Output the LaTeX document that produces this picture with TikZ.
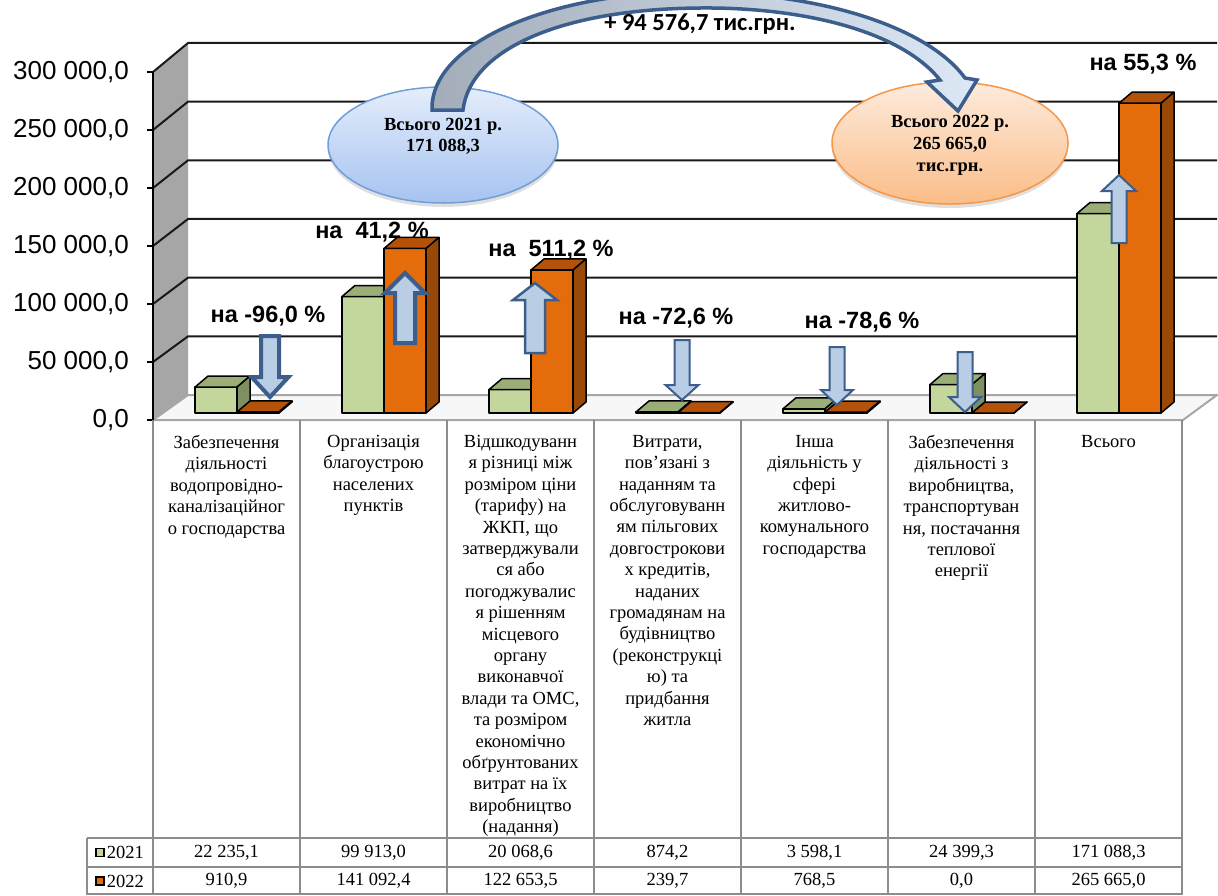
\documentclass[tikz,border=0pt]{standalone}
\usepackage{fontspec}
\setmainfont{Liberation Serif}
\newfontfamily\arialfont{Liberation Sans}
\newfontfamily\calibrifont{Carlito}
\usetikzlibrary{shadows}
\usetikzlibrary{positioning}
\usetikzlibrary{shapes.geometric}
\usetikzlibrary{calc}
\definecolor{greenfront}{HTML}{C3D69B}
\definecolor{greentop}{HTML}{9CAE78}
\definecolor{greenside}{HTML}{7F9060}
\definecolor{orangefront}{HTML}{E46C0A}
\definecolor{orangetop}{HTML}{B4520A}
\definecolor{orangeside}{HTML}{984807}
\definecolor{arrowfill}{HTML}{B9CDE5}
\definecolor{arrowline}{HTML}{3B5E8C}
\definecolor{wallgray}{HTML}{A6A6A6}
\definecolor{tablegray}{HTML}{8C8C8C}
\definecolor{bluetop}{HTML}{E4EDFB}
\definecolor{bluebottom}{HTML}{A6C3F0}
\definecolor{blueedge}{HTML}{6F9ED9}
\definecolor{orangeltop}{HTML}{FDEBDD}
\definecolor{orangelbottom}{HTML}{FBBD88}
\definecolor{orangeedge}{HTML}{F79646}
\definecolor{shaftleft}{HTML}{A3ADB9}
\definecolor{shaftright}{HTML}{DDE8F6}
\tikzstyle{gridline}=[black!90, line width=2pt]
\tikzstyle{barface}=[draw=black, line width=1.5pt, line join=round]
\tikzstyle{blockarrow}=[fill=arrowfill, draw=arrowline, line join=miter]
\tikzstyle{percent}=[font=\arialfont\bfseries\fontsize{23.5}{27}\selectfont, inner sep=0pt]
\tikzstyle{axislabel}=[font=\arialfont\fontsize{26}{30}\selectfont, anchor=east, inner sep=0pt]
\tikzstyle{category}=[font=\fontsize{18.5}{21.4}\selectfont, align=center, anchor=north, inner sep=0pt]
\tikzstyle{cellvalue}=[font=\fontsize{18.5}{20}\selectfont, inner sep=0pt]
\tikzstyle{totalbox}=[ellipse, minimum width=230pt, minimum height=116pt, inner sep=0pt, line width=1.5pt, drop shadow={opacity=0.25, shadow xshift=0pt, shadow yshift=-4pt}]
\tikzstyle{totaltext}=[font=\bfseries\fontsize{18.5}{21}\selectfont, align=center, inner sep=0pt]
\tikzstyle{tableline}=[tablegray, line width=2pt]
\tikzstyle{keybox}=[draw=black, line width=1.3pt, minimum size=8pt, inner sep=0pt]
% one 3D bar: left x, height, colour prefix
\newcommand{\cuboid}[3]{%
  \filldraw[barface, fill=#3front] (#1,413) rectangle (#1+42,413-#2);
  \filldraw[barface, fill=#3top] (#1,413-#2) -- (#1+13,402-#2) -- (#1+55,402-#2) -- (#1+42,413-#2) -- cycle;
  \filldraw[barface, fill=#3side] (#1+42,413) -- (#1+55,402) -- (#1+55,402-#2) -- (#1+42,413-#2) -- cycle;
}
\begin{document}
\begin{tikzpicture}[x=1pt, y=-1pt]
\useasboundingbox (0,0) rectangle (1218,895);

% walls, floor and grid
\fill[wallgray] (153,72) -- (188,43) -- (188,395) -- (153,420) -- cycle;
\filldraw[fill=black!3, draw=wallgray, line width=2pt] (153,420) -- (188,395) -- (1217,395) -- (1183,420) -- cycle;
\foreach \k in {1,...,6}
  \draw[gridline] (153,420-58*\k) -- (188,395-58.67*\k) -- (1217,395-58.67*\k);
\draw[black, line width=2pt] (153,72) -- (153,420);
\foreach \k/\lab in {0/{0,0}, 1/{50 000,0}, 2/{100 000,0}, 3/{150 000,0}, 4/{200 000,0}, 5/{250 000,0}, 6/{300 000,0}}{
  \draw[black, line width=1.5pt] (147,420-58*\k) -- (153,420-58*\k);
  \node[axislabel] (ax\k) at (129,420-58*\k) {\lab};
}

% totals
\node[totalbox, top color=bluetop, bottom color=bluebottom, draw=blueedge] (tot21) at (443,145) {};
\node[totaltext] (tot21text) at (443,136) {Всього 2021 р.\\171 088,3};
\node[totalbox, top color=orangeltop, bottom color=orangelbottom, draw=orangeedge, minimum width=236pt, minimum height=122pt] (tot22) at (950,143) {};
\node[totaltext, font=\bfseries\fontsize{18.5}{22}\selectfont] (tot22text) at (950,145) {Всього 2022 р.\\265 665,0\\тис.грн.};

% curved arrow between totals
\draw[line width=3.5pt, arrowline, left color=shaftleft, right color=shaftright, line join=miter]
  (432,110) .. controls (430,40) and (560,-10) .. (700,-8)
  .. controls (830,-6) and (930,30) .. (965,78)
  -- (977,80) -- (958,111) -- (927,82) -- (940,80)
  .. controls (900,30) and (800,7) .. (700,8)
  .. controls (560,9) and (470,50) .. (463,110) -- cycle;
\node[font=\calibrifont\bfseries\fontsize{24.5}{28}\selectfont, inner sep=0pt] (diff) at (700,24) {+ 94 576,7 тис.грн.};

% bars (values in thousands)
\foreach \k/\va/\vb in {0/22.2351/0.9109, 1/99.913/141.0924, 2/20.0686/122.6535, 3/0.8742/0.2397, 4/3.5981/0.7685, 5/24.3993/0.0, 6/171.0883/265.665}{
  \pgfmathsetmacro{\xg}{195+147*\k}
  \pgfmathsetmacro{\hg}{1.166*\va}
  \pgfmathsetmacro{\xo}{237+147*\k}
  \pgfmathsetmacro{\ho}{1.166*\vb}
  \cuboid{\xg}{\hg}{green}
  \cuboid{\xo}{\ho}{orange}
}

% change arrows
\foreach \cx/\ya/\yb/\yc/\sw/\hw/\lw in {270/336/377/397/9/18.5/4, 682/340/385/400/7.5/16.5/2, 837/347/390/405/7.5/16/2, 965/352/397/412/7.5/16/2}
  \draw[blockarrow, line width=\lw pt] (\cx-\sw,\ya) -- (\cx+\sw,\ya) -- (\cx+\sw,\yb) -- (\cx+\hw,\yb) -- (\cx,\yc) -- (\cx-\hw,\yb) -- (\cx-\sw,\yb) -- cycle;
\foreach \cx/\ya/\yb/\yc/\sw/\hw/\lw in {405/343/293/273/10/20/4, 535/353/300/283/10/22/2.5, 1119/243/191/175/7.5/17/2}
  \draw[blockarrow, line width=\lw pt] (\cx-\sw,\ya) -- (\cx+\sw,\ya) -- (\cx+\sw,\yb) -- (\cx+\hw,\yb) -- (\cx,\yc) -- (\cx-\hw,\yb) -- (\cx-\sw,\yb) -- cycle;

\node[percent] (p1) at (268,316) {на -96,0 \%};
\node[percent] (p2) at (372,232) {на\ \ 41,2 \%};
\node[percent] (p3) at (551,250) {на\ \ 511,2 \%};
\node[percent] (p4) at (676,318) {на -72,6 \%};
\node[percent] (p5) at (862,322) {на -78,6 \%};
\node[percent] (p7) at (1143,64) {на 55,3 \%};

% data table
\foreach \k in {0,...,7}
  \draw[tableline] (153+147*\k,420) -- (153+147*\k,895);
\draw[tableline] (87,838) -- (1183,838);
\draw[tableline] (87,867) -- (1183,867);
\draw[tableline] (87,894) -- (1183,894);
\draw[tableline] (87,838) -- (87,895);

\node[category] (c1) at (226.5,435) {Забезпечення\\діяльності\\водопровідно-\\каналізаційног\\о господарства};
\node[category] (c2) at (373.5,435) {Організація\\благоустрою\\населених\\пунктів};
\node[category] (c3) at (520.5,435) {Відшкодуванн\\я різниці між\\розміром ціни\\(тарифу) на\\ЖКП, що\\затверджували\\ся або\\погоджувалис\\я рішенням\\місцевого\\органу\\виконавчої\\влади та ОМС,\\та розміром\\економічно\\обґрунтованих\\витрат на їх\\виробництво\\(надання)};
\node[category] (c4) at (667.5,435) {Витрати,\\пов’язані з\\наданням та\\обслуговуванн\\ям пільгових\\довгострокови\\х кредитів,\\наданих\\громадянам на\\будівництво\\(реконструкці\\ю) та\\придбання\\житла};
\node[category] (c5) at (814.5,435) {Інша\\діяльність у\\сфері\\житлово-\\комунального\\господарства};
\node[category] (c6) at (961.5,435) {Забезпечення\\діяльності з\\виробництва,\\транспортуван\\ня, постачання\\теплової\\енергії};
\node[category] (c7) at (1108.5,435) {Всього};

\node[keybox, fill=greenfront] (key21) at (100,852.5) {};
\node[cellvalue, right=2pt of key21] (lab21) {2021};
\node[keybox, fill=orangefront] (key22) at (100,881) {};
\node[cellvalue, right=2pt of key22] (lab22) {2022};

\foreach \k/\va/\vb in {0/{22 235,1}/{910,9}, 1/{99 913,0}/{141 092,4}, 2/{20 068,6}/{122 653,5}, 3/{874,2}/{239,7}, 4/{3 598,1}/{768,5}, 5/{24 399,3}/{0,0}, 6/{171 088,3}/{265 665,0}}{
  \node[cellvalue] (a\k) at (226.5+147*\k,852.5) {\va};
  \node[cellvalue] (b\k) at (226.5+147*\k,881) {\vb};
}
\end{tikzpicture}
\end{document}
